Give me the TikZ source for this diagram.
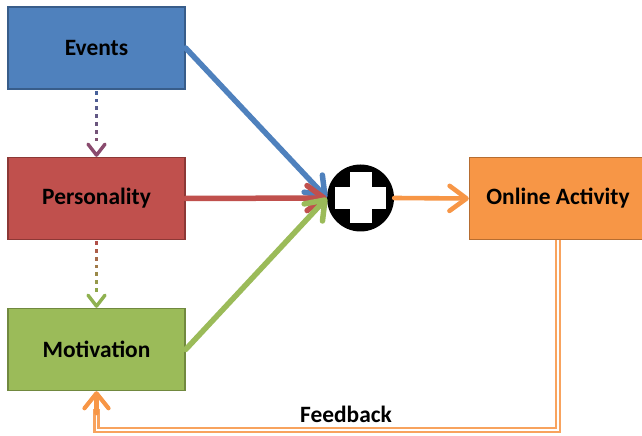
\documentclass[tikz,border=0pt]{standalone}
\usepackage{fontspec}
\setmainfont{Carlito}
\usetikzlibrary{arrows.meta,decorations.markings,calc}

\definecolor{evfill}{HTML}{4F81BD}
\definecolor{evline}{HTML}{385D8A}
\definecolor{pefill}{HTML}{C0504D}
\definecolor{peline}{HTML}{8C3836}
\definecolor{mofill}{HTML}{9BBB59}
\definecolor{moline}{HTML}{71893F}
\definecolor{oafill}{HTML}{F79646}
\definecolor{oaline}{HTML}{B66D31}
\definecolor{fbline}{HTML}{F8A35E}
% colours of the dotted links
\definecolor{dotA}{HTML}{46609A}
\definecolor{dotB}{HTML}{80506F}
\definecolor{headAB}{HTML}{8A4B6E}
\definecolor{dotC}{HTML}{B04E48}
\definecolor{dotD}{HTML}{8EAA4A}
\definecolor{headCD}{HTML}{8FB150}

\tikzset{
  box/.style={draw, line width=1.3bp, minimum width=177bp, minimum height=82bp,
    inner sep=0pt, text=black, font=\fontsize{23.5}{28}\selectfont\bfseries},
  flow/.style={line width=5.5bp, line cap=round,
    -{Straight Barb[length=17bp, width=25bp, line cap=round, line join=round]}},
  plusmark/.style={circle, fill=black, minimum size=67bp, inner sep=0pt},
  % dotted link whose dots fade from #1 to #2, with a chevron head in #3
  dotlink/.style n args={3}{
    decoration={markings,
      mark=between positions 3bp and 50bp step 7.8bp with {
        \pgfmathtruncatemacro\dotmix{max(0,100-(\pgfkeysvalueof{/pgf/decoration/mark info/sequence number}-1)*16)}
        \fill[#1!\dotmix!#2] (-1.9,-1.9) rectangle (1.9,1.9);
      },
      mark=at position 1 with {\arrow[#3]{Straight Barb[length=11bp, width=17bp, line width=3.4bp, line cap=round, line join=round]}}
    },
    postaction=decorate
  },
  fbdouble/.style={draw=fbline, line width=2.3bp, double=white, double distance=1.6bp},
  fbhead/.style={draw=oafill, line width=4.2bp, line cap=round,
    -{Straight Barb[length=15bp, width=24bp, line cap=round, line join=round]}},
  label/.style={text=black, font=\fontsize{23.5}{28}\selectfont\bfseries, inner sep=0pt}
}

\begin{document}
\begin{tikzpicture}[x=1bp, y=-1bp]
  \clip (0,0) rectangle (642,436);
  \fill[white] (0,0) rectangle (642,436);

  % boxes
  \node[box, fill=evfill, draw=evline] (ev) at (96.5,48) {Events};
  \node[box, fill=pefill, draw=peline] (pe) at (96.5,198.5) {Personality};
  \node[box, fill=mofill, draw=moline] (mo) at (96.5,349.5) {Motivation};
  \node[box, fill=oafill, draw=oaline] (oa) at (558,198.5) {Online Activity};

  % combining node: black disc with a white cross
  \node[plusmark] (plus) at (360.5,198) {};
  \fill[white] ($(plus)+(-25.5,-11)$) rectangle ($(plus)+(25.5,11)$);
  \fill[white] ($(plus)+(-11,-25.5)$) rectangle ($(plus)+(11,25.5)$);

  % influences
  \draw[flow, evfill] (ev.east) -- (plus.west);
  \draw[flow, pefill] (pe.east) -- (plus.west);
  \draw[flow, mofill] (mo.east) -- (plus.west);
  \draw[flow, oafill, line width=4.6bp] (plus.east) -- (oa.west);

  % dotted links between the stacked boxes
  \path[dotlink={dotA}{dotB}{headAB}] (ev.south) -- (pe.north);
  \path[dotlink={dotC}{dotD}{headCD}] (pe.south) -- (mo.north);

  % feedback loop
  \coordinate (fbase) at (0,430);
  \coordinate (fbend) at ($(mo.south)+(0,18)$);
  \coordinate (fbhead) at ($(mo.south)+(0,22)$);
  \draw[fbdouble] (oa.south) -- (oa.south |- fbase) -- (fbend |- fbase) -- (fbend);
  \draw[fbhead] (fbhead) -- (mo.south);
  \node[label] (fb) at (346,414) {Feedback};
\end{tikzpicture}
\end{document}
